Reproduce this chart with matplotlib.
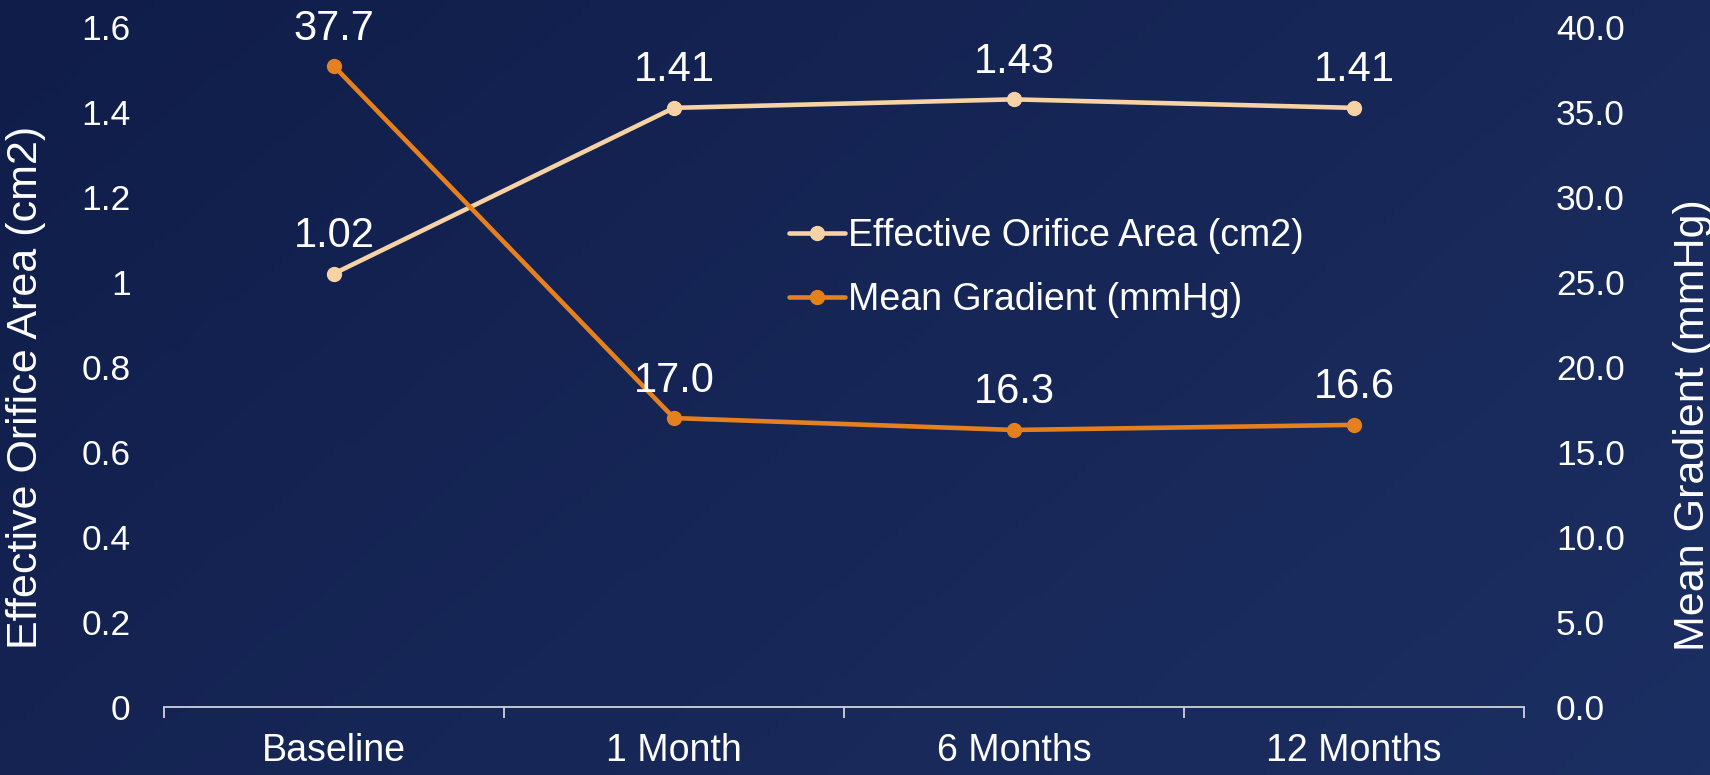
import matplotlib.pyplot as plt
import numpy as np
from matplotlib.colors import LinearSegmentedColormap

# data
categories = ["Baseline", "1 Month", "6 Months", "12 Months"]
eoa_values = [1.02, 1.41, 1.43, 1.41]
eoa_labels = ["1.02", "1.41", "1.43", "1.41"]
gradient_values = [37.7, 17.0, 16.3, 16.6]
gradient_labels = ["37.7", "17.0", "16.3", "16.6"]
eoa_ticks = [0, 0.2, 0.4, 0.6, 0.8, 1.0, 1.2, 1.4, 1.6]
eoa_ticklabels = ["0", "0.2", "0.4", "0.6", "0.8", "1", "1.2", "1.4", "1.6"]
grad_ticks = [0, 5, 10, 15, 20, 25, 30, 35, 40]
grad_ticklabels = ["0.0", "5.0", "10.0", "15.0", "20.0", "25.0", "30.0", "35.0", "40.0"]

EOA_COLOR = "#f6d2a4"
GRAD_COLOR = "#e5801f"
TEXT = "white"
AXIS_LINE = "#d0d3dc"

plt.rcParams["font.family"] = ["Liberation Sans", "DejaVu Sans"]

fig = plt.figure(figsize=(17.1, 7.75), dpi=100)

# dark navy background with a soft diagonal gradient
bg = fig.add_axes([0, 0, 1, 1], zorder=-10)
cmap = LinearSegmentedColormap.from_list("bg", ["#101d4a", "#1c2f62"])
gx, gy = np.meshgrid(np.linspace(0, 1, 200), np.linspace(0, 1, 100))
bg.imshow(0.65 * gx + 0.35 * gy, cmap=cmap, aspect="auto", extent=[0, 1, 0, 1], origin="upper")
bg.axis("off")

ax = fig.add_axes([0.0959, 0.0877, 0.7953, 0.8773])
ax.patch.set_alpha(0)
ax2 = ax.twinx()

x = np.arange(len(categories))

(l1,) = ax.plot(x, eoa_values, color=EOA_COLOR, lw=3.3, marker="o", ms=10,
                label="Effective Orifice Area (cm2)", solid_capstyle="round")
(l2,) = ax2.plot(x, gradient_values, color=GRAD_COLOR, lw=3.3, marker="o", ms=10,
                 label="Mean Gradient (mmHg)", solid_capstyle="round")

for xi, v, s in zip(x, eoa_values, eoa_labels):
    ax.annotate(s, (xi, v), xytext=(0, 27), textcoords="offset points",
                ha="center", va="center", color=TEXT, fontsize=30)
for xi, v, s in zip(x, gradient_values, gradient_labels):
    ax2.annotate(s, (xi, v), xytext=(0, 27), textcoords="offset points",
                 ha="center", va="center", color=TEXT, fontsize=30)

ax.set_xlim(-0.5, len(categories) - 0.5)
ax.set_ylim(0, 1.6)
ax2.set_ylim(0, 40)

ax.set_yticks(eoa_ticks)
ax.set_yticklabels(eoa_ticklabels)
ax2.set_yticks(grad_ticks)
ax2.set_yticklabels(grad_ticklabels)

# ticks at the category boundaries, labels at the centres
ax.set_xticks(np.arange(-0.5, len(categories), 1.0))
ax.set_xticklabels([])
ax.set_xticks(x, minor=True)
ax.set_xticklabels(categories, minor=True)
ax.tick_params(axis="x", which="major", length=8, width=1.3, color=AXIS_LINE)
ax.tick_params(axis="x", which="minor", length=0, pad=19, labelsize=27, labelcolor=TEXT)
ax.tick_params(axis="y", length=0, pad=24, labelsize=25.5, labelcolor=TEXT)
ax2.tick_params(axis="y", length=0, pad=23, labelsize=25.5, labelcolor=TEXT)

for a in (ax, ax2):
    for side in ("top", "left", "right"):
        a.spines[side].set_visible(False)
ax.spines["bottom"].set_color(AXIS_LINE)
ax.spines["bottom"].set_linewidth(1.3)
ax2.spines["bottom"].set_visible(False)

# axis titles placed where the reference has them
fig.text(0.0150, 0.500, "Effective Orifice Area (cm2)", rotation=90,
         ha="center", va="center", color=TEXT, fontsize=31)
fig.text(0.9900, 0.452, "Mean Gradient (mmHg)", rotation=90,
         ha="center", va="center", color=TEXT, fontsize=31)

leg = ax2.legend(handles=[l1, l2], loc="center left",
                 bbox_to_anchor=(0.4615, 0.6545), bbox_transform=fig.transFigure,
                 frameon=False, fontsize=27, labelcolor=TEXT, handlelength=1.5,
                 handletextpad=0.08, labelspacing=0.74, borderpad=0, borderaxespad=0)

fig.savefig("out.png", dpi=100)
